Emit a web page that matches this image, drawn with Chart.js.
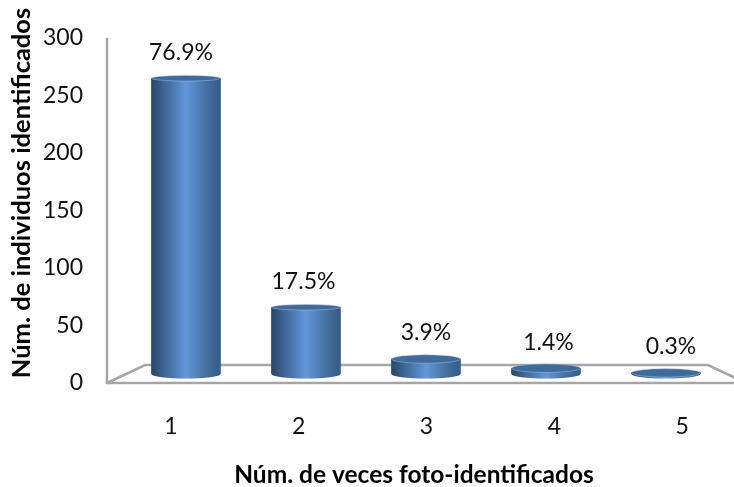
<!DOCTYPE html>
<html>
<head>
<meta charset="utf-8">
<script src="https://cdn.jsdelivr.net/npm/chart.js@4"></script>
<style>
html, body { margin: 0; padding: 0; background: #fff; overflow: hidden; width: 734px; height: 487px; }
canvas { display: block; }
</style>
</head>
<body>
<canvas id="myChart" width="746" height="487"></canvas>
<script>
var categorias = ['1', '2', '3', '4', '5'];
var posiciones = [1, 2, 3, 4, 5];
var individuos = [257, 58, 13, 5, 1];
var porcentajes = ['76.9%', '17.5%', '3.9%', '1.4%', '0.3%'];
var ticksY = [0, 50, 100, 150, 200, 250, 300];
var tituloX = 'Núm. de veces foto-identificados';
var tituloY = 'Núm. de individuos identificados';

var fuente = 'Lato, Carlito, sans-serif';
var gris = '#a6a6a6';
var fondo = 9;     // the bars stand this far behind the front edge of the floor
var radioY = 4.5;  // height of the cylinder ends
var ctx = document.getElementById('myChart').getContext('2d');

function degradado(c, x, ancho) {
    var g = c.createLinearGradient(x - ancho / 2, 0, x + ancho / 2, 0);
    g.addColorStop(0, '#294668');
    g.addColorStop(0.2, '#3f6797');
    g.addColorStop(0.5, '#6296da');
    g.addColorStop(0.8, '#44709f');
    g.addColorStop(1, '#365a86');
    return g;
}

var cilindro = {
    id: 'cilindro',
    beforeDatasetsDraw: function (chart) {
        // gray walls and floor of the 3D box
        var c = chart.ctx, a = chart.chartArea;
        c.save();
        c.strokeStyle = gris;
        c.lineWidth = 2.5;
        c.beginPath();
        c.moveTo(a.left, a.top);
        c.lineTo(a.left, a.bottom);
        c.lineTo(a.right, a.bottom);
        c.moveTo(a.left, a.bottom);
        c.lineTo(a.left + 38, a.bottom - 18);
        c.lineTo(a.right - 38, a.bottom - 18);
        c.lineTo(a.right, a.bottom);
        c.stroke();
        c.restore();
    },
    beforeDatasetDraw: function (chart, args) {
        var c = chart.ctx;
        args.meta.data.forEach(function (bar) {
            c.fillStyle = degradado(c, bar.x, bar.width);
            c.beginPath();
            c.ellipse(bar.x, bar.base - fondo, bar.width / 2, radioY, 0, 0, Math.PI * 2);
            c.fill();
        });
        c.save();
        c.translate(0, -fondo);
    },
    afterDatasetDraw: function (chart, args) {
        var c = chart.ctx;
        c.restore();
        args.meta.data.forEach(function (bar, i) {
            // taller cylinders show a flatter top
            var radioTapa = bar.base - bar.y > 30 ? 2.8 : 4.2;
            c.fillStyle = '#3f6a9c';
            c.strokeStyle = '#a9c2de';
            c.lineWidth = 0.5;
            c.beginPath();
            c.ellipse(bar.x, bar.y - fondo, bar.width / 2, radioTapa, 0, 0, Math.PI * 2);
            c.fill();
            c.stroke();
            // percentage labels run on a slightly wider spacing than the bars
            var centro = chart.scales.xBarras.getPixelForValue(3);
            c.fillStyle = '#111';
            c.font = '23px ' + fuente;
            c.textAlign = 'center';
            c.textBaseline = 'middle';
            c.fillText(porcentajes[i], centro + (bar.x - centro) * 122.5 / 120, bar.y - fondo - 26);
        });
    },
    afterDraw: function (chart) {
        var c = chart.ctx;
        c.save();
        c.fillStyle = '#000';
        c.font = 'bold 24.5px ' + fuente;
        c.textAlign = 'center';
        c.textBaseline = 'middle';
        c.fillText(tituloX, 414, 475);
        c.font = 'bold 25.5px ' + fuente;
        c.translate(22, 193);
        c.rotate(-Math.PI / 2);
        c.fillText(tituloY, 0, 0);
        c.restore();
    }
};

new Chart(ctx, {
    type: 'bar',
    data: {
        labels: categorias,
        datasets: [{
            label: 'Núm. de individuos identificados',
            data: posiciones.map(function (p, i) { return { x: p, y: individuos[i] }; }),
            xAxisID: 'xBarras',
            yAxisID: 'y',
            barThickness: 69,
            borderWidth: 0,
            backgroundColor: function (context) {
                if (context.parsed === undefined) return '#3f6ea5';
                var x = context.chart.scales.xBarras.getPixelForValue(context.parsed.x);
                // the first pass runs before the scales are laid out
                if (!isFinite(x)) return '#3f6ea5';
                return degradado(context.chart.ctx, x, 69);
            }
        }]
    },
    plugins: [cilindro],
    options: {
        responsive: false,
        animation: false,
        layout: { padding: { top: 33, left: 0, right: 0, bottom: 0 } },
        plugins: { legend: { display: false }, tooltip: { enabled: false } },
        scales: {
            x: {
                type: 'category',
                labels: categorias,
                position: 'bottom',
                offset: true,
                grid: { display: false, drawTicks: false },
                border: { display: false },
                afterFit: function (s) { s.height = 104; },
                ticks: { color: '#111', padding: 30, maxRotation: 0, font: { family: fuente, size: 23 } }
            },
            xBarras: {
                type: 'linear',
                axis: 'x',
                display: false,
                offset: false,
                min: 0.342,
                max: 5.667
            },
            y: {
                min: 0,
                max: 300,
                afterFit: function (s) { s.width = 107; },
                afterBuildTicks: function (s) { s.ticks = ticksY.map(function (v) { return { value: v }; }); },
                grid: { display: false, drawTicks: false },
                border: { display: false },
                ticks: { color: '#111', padding: 24, font: { family: fuente, size: 23 } }
            }
        }
    }
});
</script>
</body>
</html>
